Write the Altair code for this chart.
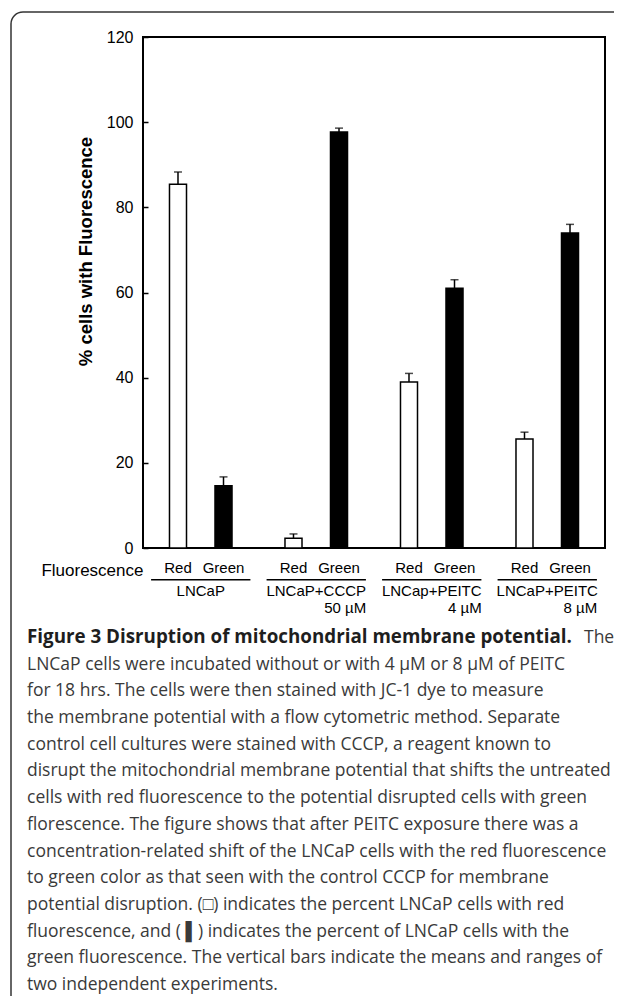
import altair as alt
import pandas as pd

# ---- data ----
groups = ["LNCaP", "LNCaP+CCCP", "LNCap+PEITC", "LNCaP+PEITC"]
group_doses = ["", "50 µM", "4 µM", "8 µM"]
fluorescence = ["Red", "Green"]
red_mean = [85.4, 2.3, 39.0, 25.6]
red_upper = [88.3, 3.3, 41.0, 27.2]
green_mean = [14.6, 97.7, 61.0, 74.0]
green_upper = [16.7, 98.6, 63.0, 76.0]
y_ticks = [0, 20, 40, 60, 80, 100, 120]

caption_head = "Figure 3 Disruption of mitochondrial membrane potential."
caption_head_tail = "The"
caption_lines = [
    "LNCaP cells were incubated without or with 4 µM or 8 µM of PEITC",
    "for 18 hrs. The cells were then stained with JC-1 dye to measure",
    "the membrane potential with a flow cytometric method. Separate",
    "control cell cultures were stained with CCCP, a reagent known to",
    "disrupt the mitochondrial membrane potential that shifts the untreated",
    "cells with red fluorescence to the potential disrupted cells with green",
    "florescence. The figure shows that after PEITC exposure there was a",
    "concentration-related shift of the LNCaP cells with the red fluorescence",
    "to green color as that seen with the control CCCP for membrane",
    "potential disruption. (\u25a1) indicates the percent LNCaP cells with red",
    "fluorescence, and ( \u258c) indicates the percent of LNCaP cells with the",
    "green fluorescence. The vertical bars indicate the means and ranges of",
    "two independent experiments.",
]

# ---- tables ----
rows = []
for i, g in enumerate(groups):
    rows.append({"group": g, "fluor": "Red", "mean": red_mean[i], "upper": red_upper[i]})
    rows.append({"group": g, "fluor": "Green", "mean": green_mean[i], "upper": green_upper[i]})
df = pd.DataFrame(rows)
gdf = pd.DataFrame({"group": groups, "dose": group_doses})
cap_df = pd.DataFrame({"line": list(range(1, len(caption_lines) + 1)), "text": caption_lines})
head_df = pd.DataFrame({"line": [0], "head": [caption_head], "tail": [caption_head_tail]})
one = pd.DataFrame({"a": [0]})

AX_FONT = "Liberation Sans"
CAP_FONT = "Open Sans"
BORDER = "#333333"

x_enc = alt.X(
    "group:N", sort=groups,
    scale=alt.Scale(paddingInner=0, paddingOuter=0),
    axis=alt.Axis(labels=False, ticks=False, domain=False, grid=False,
                  title="Fluorescence", titleX=0, titleY=22, titleAlign="right",
                  titleBaseline="middle", titleFont=AX_FONT, titleFontSize=17,
                  titleFontWeight="normal", titleColor="black"),
)
xoff = alt.XOffset("fluor:N", sort=fluorescence,
                   scale=alt.Scale(paddingInner=0.626, paddingOuter=0.582))
yscale = alt.Scale(domain=[0, 120], nice=False)
y_enc = alt.Y(
    "mean:Q", scale=yscale, stack=False,
    axis=alt.Axis(values=y_ticks, offset=-5, tickSize=5, domain=False, grid=False,
                  labelPadding=10, labelFont=AX_FONT, labelFontSize=16,
                  labelColor="black", tickColor="black", tickWidth=1.5,
                  title="% cells with Fluorescence", titleX=-63, titleY=214,
                  titleAngle=270, titleAlign="center", titleBaseline="middle",
                  titleFont=AX_FONT, titleFontSize=18.5, titleFontWeight="bold",
                  titleColor="black"),
)

# figure border (top + left edges with a rounded corner)
border_top = alt.Chart(one).mark_rule(color=BORDER, strokeWidth=1.5).encode(
    x=alt.value(-120), x2=alt.value(471), y=alt.value(-25)
)
border_left = alt.Chart(one).mark_rule(color=BORDER, strokeWidth=1.5).encode(
    x=alt.value(-132), y=alt.value(-13), y2=alt.value(959)
)
border_corner = alt.Chart(one).mark_arc(
    color=BORDER, radius=12.75, radius2=11.25, theta=4.7124, theta2=6.2832
).encode(x=alt.value(-120), y=alt.value(-13))

bars = alt.Chart(df).mark_bar(stroke="black", strokeWidth=1.5).encode(
    x=x_enc, xOffset=xoff, y=y_enc,
    fill=alt.Fill("fluor:N", scale=alt.Scale(domain=fluorescence, range=["white", "black"]), legend=None),
)
err = alt.Chart(df).mark_rule(color="black", strokeWidth=1.5).encode(
    x=x_enc, xOffset=xoff, y=alt.Y("mean:Q", scale=yscale), y2="upper:Q"
)
caps = alt.Chart(df).mark_tick(color="black", size=8, thickness=1.5).encode(
    x=x_enc, xOffset=xoff, y=alt.Y("upper:Q", scale=yscale)
)
plot = alt.layer(bars, err, caps)

flabels = alt.Chart(df).mark_text(font=AX_FONT, fontSize=15, color="black", baseline="middle").encode(
    x=x_enc, xOffset=xoff, y=alt.value(531), text="fluor:N"
)
underline = alt.Chart(gdf).mark_bar(color="black", width=alt.RelativeBandSize(0.86)).encode(
    x=x_enc, y=alt.value(542), y2=alt.value(543.5)
)
glabel1 = alt.Chart(gdf).mark_text(font=AX_FONT, fontSize=15, color="black", baseline="middle").encode(
    x=x_enc, y=alt.value(554), text="group:N"
)
glabel2 = alt.Chart(gdf).mark_text(font=AX_FONT, fontSize=15, color="black", baseline="middle",
                                   align="right", dx=50).encode(
    x=x_enc, y=alt.value(571), text="dose:N"
)

cap_y_scale = alt.Scale(domain=[0, 13], range=[606, 953])
cap_head = alt.Chart(head_df).mark_text(
    font=CAP_FONT, fontSize=18.8, fontWeight="bold", color="#1e1e1e", align="left", baseline="alphabetic"
).encode(x=alt.value(-116), y=alt.Y("line:Q", scale=cap_y_scale, axis=None), text="head:N")
cap_tail = alt.Chart(head_df).mark_text(
    font=CAP_FONT, fontSize=17.5, color="#3a3a3a", align="left", baseline="alphabetic"
).encode(x=alt.value(441), y=alt.Y("line:Q", scale=cap_y_scale, axis=None), text="tail:N")
cap_body = alt.Chart(cap_df).mark_text(
    font=CAP_FONT, fontSize=17.5, color="#3a3a3a", align="left", baseline="alphabetic"
).encode(x=alt.value(-116), y=alt.Y("line:Q", scale=cap_y_scale, axis=None), text="text:N")
caption = alt.layer(cap_head, cap_tail, cap_body)

chart = alt.layer(
    border_top, border_left, border_corner, plot, flabels, underline, glabel1, glabel2, caption
).resolve_scale(y="independent").properties(
    width=462, height=511,
    autosize=alt.AutoSizeParams(type="none"),
    padding={"left": 135, "top": 29, "right": 9, "bottom": 448},
).configure_view(stroke="black", strokeWidth=2)

chart.save("out.html", embed_options={"renderer": "svg", "actions": False})
